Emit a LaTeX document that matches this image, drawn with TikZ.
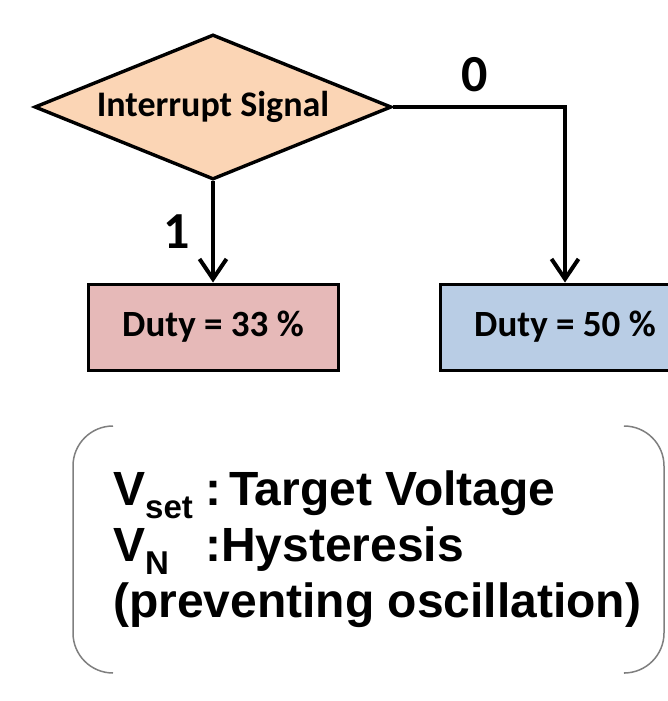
\documentclass[tikz,border=0pt]{standalone}
\usepackage{fontspec}
\setmainfont{Liberation Sans}
\newfontfamily\calib{Carlito}
\usetikzlibrary{shapes.geometric,arrows.meta}
\definecolor{peach}{HTML}{FBD5B5}
\definecolor{rosebox}{HTML}{E6B9B8}
\definecolor{bluebox}{HTML}{B9CDE5}
\definecolor{bracketgray}{HTML}{7F7F7F}
\tikzset{
  decision/.style={diamond, draw=black, line width=3.4pt, fill=peach,
    shape aspect=2.45, minimum width=357pt, minimum height=145pt, inner sep=0pt,
    font=\calib\bfseries\fontsize{36}{40}\selectfont},
  dutybox/.style={rectangle, draw=black, line width=3pt,
    minimum width=250pt, minimum height=86pt, inner sep=0pt,
    font=\calib\bfseries\fontsize{37}{40}\selectfont},
  flow/.style={line width=4pt, -{Straight Barb[length=20pt,width=27pt,line width=4pt]}},
  branch/.style={font=\calib\bfseries\fontsize{52}{56}\selectfont, inner sep=0pt},
  legendline/.style={anchor=base west, inner sep=0pt,
    font=\bfseries\fontsize{48}{56}\selectfont},
  bracket/.style={draw=bracketgray, line width=1.5pt, rounded corners=40pt}
}
\newcommand{\legsub}[1]{\raisebox{-13pt}{\fontsize{33}{36}\selectfont #1}}
\begin{document}
\begin{tikzpicture}[x=1pt,y=-1pt]
  \useasboundingbox (0,0) rectangle (668,701);

  % decision and outcomes
  \node[decision] (sig) at (213,107) {Interrupt Signal};
  \node[dutybox, fill=rosebox] (d33) at (213,327) {Duty = 33 \%};
  \node[dutybox, fill=bluebox] (d50) at (565,327) {Duty = 50 \%};

  \draw[flow] (sig.south) -- (d33.north);
  \draw[flow] (sig.east) -| (d50.north);

  \node[branch] (one) at (177,232) {1};
  \node[branch] (zero) at (475,75) {0};

  % legend frame: rounded brackets on both sides
  \draw[bracket] (113,426) -- (73,426) -- (73,673) -- (113,673);
  \draw[bracket] (625,426) -- (664,426) -- (664,673) -- (625,673);

  % legend text
  \node[legendline] (l1) at (113,505) {\makebox[92pt][l]{V\legsub{set}}:\hspace{8pt}Target Voltage};
  \node[legendline] (l2) at (113,561) {\makebox[92pt][l]{V\legsub{N}}:Hysteresis};
  \node[legendline] (l3) at (113,617) {(preventing oscillation)};
\end{tikzpicture}
\end{document}
